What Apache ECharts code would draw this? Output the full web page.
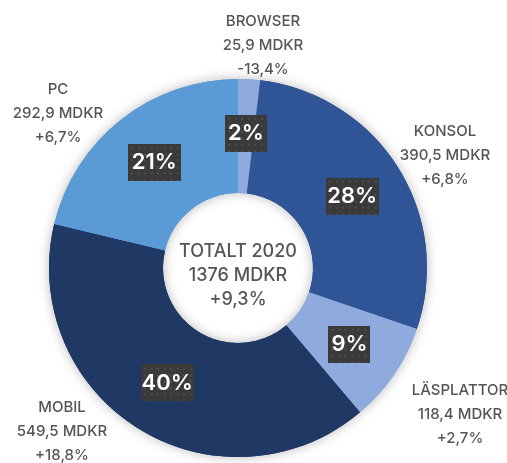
<!DOCTYPE html>
<html>
<head>
<meta charset="utf-8">
<script src="https://cdn.jsdelivr.net/npm/echarts@6/dist/echarts.min.js"></script>
<style>
  html, body { margin: 0; padding: 0; background: #fff; }
  #chart { width: 507px; height: 463px; }
</style>
</head>
<body>
<div id="chart"></div>
<script>
// data
const categories = ['BROWSER', 'KONSOL', 'LÄSPLATTOR', 'MOBIL', 'PC']
const valueLabels = ['25,9', '390,5', '118,4', '549,5', '292,9']
const values = [25.9, 390.5, 118.4, 549.5, 292.9]
const changes = ['-13,4%', '+6,8%', '+2,7%', '+18,8%', '+6,7%']
const totalText = ['TOTALT 2020', '1376 MDKR', '+9,3%']

const colors = ['#8faadc', '#2f5597', '#8faadc', '#203864', '#5b9bd5']
// where the outside name labels sit (label centre, px)
const outerPos = [[263, 45], [445, 155], [460, 414], [62, 431], [58, 113]]

const center = [238, 268]
const radius = [75, 189]
const font = 'Inter, Lato, sans-serif'

// dark dotted box behind the percentages
function makeBox(w, h) {
  const c = document.createElement('canvas')
  c.width = w
  c.height = h
  const ctx = c.getContext('2d')
  ctx.fillStyle = '#3a3a3a'
  ctx.fillRect(0, 0, w, h)
  ctx.fillStyle = '#4f4f4f'
  for (let y = 3; y < h; y += 6.5) {
    for (let x = 3; x < w; x += 6.5) {
      ctx.fillRect(Math.round(x), Math.round(y), 2, 2)
    }
  }
  return c
}

const total = values.reduce((a, b) => a + b, 0)

const innerData = values.map((v, i) => {
  const txt = Math.round(v / total * 100) + '%'
  const w = txt.length > 2 ? 53 : 42
  return {
    name: categories[i],
    value: v,
    itemStyle: { color: colors[i] },
    label: {
      formatter: txt,
      width: w,
      backgroundColor: { image: makeBox(w, 37) },
    },
  }
})

const outerData = values.map((v, i) => ({
  name: categories[i],
  value: v,
  itemStyle: { color: colors[i] },
  label: {
    formatter: categories[i] + '\n' + valueLabels[i] + ' MDKR\n' + changes[i],
  },
}))

const chart = echarts.init(document.getElementById('chart'))

chart.setOption({
  animation: false,
  graphic: [{
    type: 'text',
    x: center[0],
    y: 276,
    z: 10,
    style: {
      text: totalText.join('\n'),
      align: 'center',
      verticalAlign: 'middle',
      fill: '#555',
      fontFamily: font,
      fontSize: 18,
      fontWeight: 500,
      lineHeight: 24,
    },
  }],
  series: [
    {
      type: 'pie',
      z: 1,
      center,
      radius,
      startAngle: 90,
      clockwise: true,
      silent: true,
      itemStyle: {
        borderWidth: 0,
        shadowBlur: 12,
        shadowColor: 'rgba(0, 0, 0, 0.28)',
      },
      label: {
        show: true,
        position: 'outside',
        color: '#555',
        fontFamily: font,
        fontSize: 15,
        fontWeight: 500,
        lineHeight: 24,
        align: 'center',
        overflow: 'none',
      },
      labelLine: { show: false },
      labelLayout: params => ({
        x: outerPos[params.dataIndex][0],
        y: outerPos[params.dataIndex][1],
        align: 'center',
        verticalAlign: 'middle',
      }),
      data: outerData,
    },
    {
      type: 'pie',
      z: 2,
      center,
      radius,
      startAngle: 90,
      clockwise: true,
      silent: true,
      itemStyle: { borderWidth: 0 },
      label: {
        show: true,
        position: 'inside',
        color: '#fff',
        fontFamily: font,
        fontSize: 22,
        fontWeight: 600,
        height: 37,
        lineHeight: 37,
        align: 'center',
        padding: 0,
        shadowBlur: 3,
        shadowOffsetX: 2,
        shadowOffsetY: 2,
        shadowColor: 'rgba(0, 0, 0, 0.45)',
      },
      labelLine: { show: false },
      data: innerData,
    },
  ],
})
</script>
</body>
</html>
